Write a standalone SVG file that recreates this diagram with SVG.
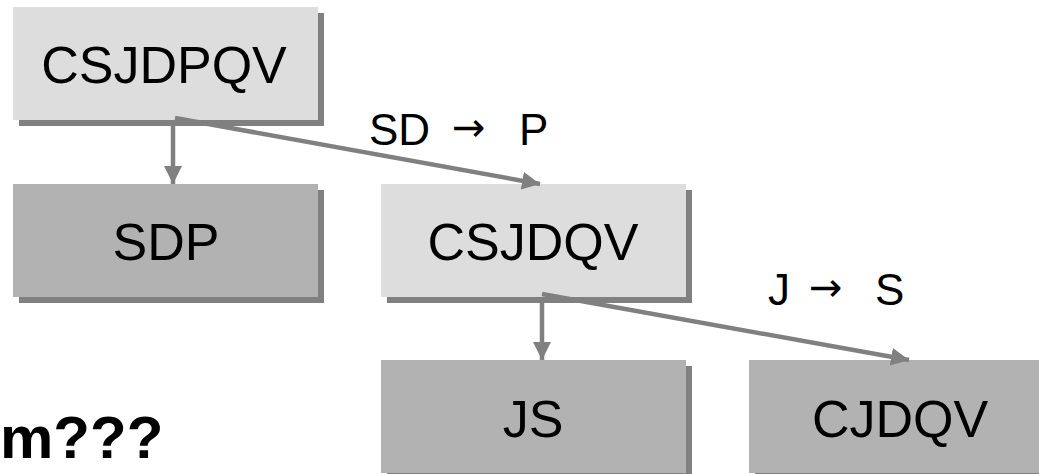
<svg xmlns="http://www.w3.org/2000/svg" width="1039" height="474" viewBox="0 0 1039 474">
<style>
.shadow{fill:#808080}
.light{fill:#DDDDDD}
.dark{fill:#B2B2B2}
.lbl{font-family:"Liberation Sans",Arial,sans-serif;font-size:52px;fill:#000;text-anchor:middle}
.edge{font-family:"Liberation Sans",Arial,sans-serif;font-size:44px;fill:#000}
.arr{font-family:"DejaVu Sans",sans-serif;font-size:40px;fill:#000}
.conn{stroke:#808080;stroke-width:4.5;fill:none;marker-end:url(#ah)}
</style>
<defs>
<marker id="ah" markerUnits="userSpaceOnUse" markerWidth="18" markerHeight="18" refX="18" refY="9" orient="auto">
<path d="M0,0 L18,9 L0,18 z" fill="#808080"/>
</marker>
</defs>
<rect width="1039" height="474" fill="#fff"/>
<g id="node-CSJDPQV">
<rect class="shadow" x="19" y="13" width="305" height="113"/>
<rect class="light" x="13" y="7" width="305" height="113"/>
<text class="lbl" x="164" y="83">CSJDPQV</text>
</g>
<g id="node-SDP">
<rect class="shadow" x="19" y="190" width="305" height="113"/>
<rect class="dark" x="13" y="184" width="305" height="113"/>
<text class="lbl" x="166" y="260">SDP</text>
</g>
<g id="node-CSJDQV">
<rect class="shadow" x="387" y="190" width="305" height="113"/>
<rect class="light" x="381" y="184" width="305" height="113"/>
<text class="lbl" x="533" y="260">CSJDQV</text>
</g>
<g id="node-JS">
<rect class="shadow" x="387" y="366" width="305" height="113"/>
<rect class="dark" x="381" y="360" width="305" height="113"/>
<text class="lbl" x="533" y="437">JS</text>
</g>
<g id="node-CJDQV">
<rect class="shadow" x="755" y="366" width="305" height="113"/>
<rect class="dark" x="749" y="360" width="305" height="113"/>
<text class="lbl" x="900" y="437">CJDQV</text>
</g>
<g id="connectors">
<line class="conn" x1="173" y1="120" x2="173" y2="184"/>
<line class="conn" x1="175" y1="118" x2="540" y2="184"/>
<line class="conn" x1="542" y1="297" x2="542" y2="360"/>
<line class="conn" x1="542" y1="294" x2="909" y2="360"/>
</g>
<g id="labels">
<text class="edge" x="369" y="145">SD</text>
<text class="arr" x="452" y="141">→</text>
<text class="edge" x="519" y="145">P</text>
<text class="edge" x="768" y="305">J</text>
<text class="arr" x="809" y="301">→</text>
<text class="edge" x="875" y="305">S</text>
</g>
<text x="0" y="458" font-family="'Liberation Sans',Arial,sans-serif" font-size="60" font-weight="bold" fill="#000">m???</text>
</svg>
